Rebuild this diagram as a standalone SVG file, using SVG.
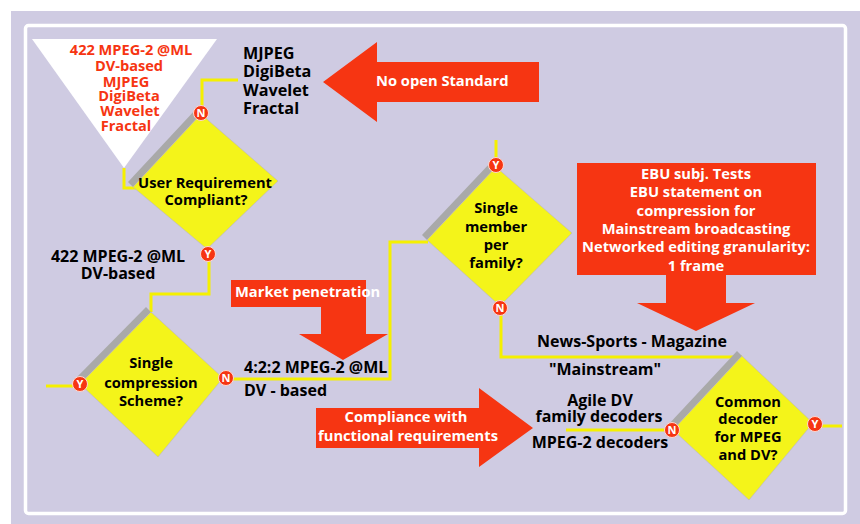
<svg xmlns="http://www.w3.org/2000/svg" width="860" height="524" viewBox="0 0 860 524">
<defs>
<style>
.bg{fill:#CFCBE2}
.frame{fill:#CFCBE2;stroke:#FFFFFF;stroke-width:3.5}
.dia{fill:#F4F41A;stroke:#B8B4C8;stroke-width:0.6}
.shadow{fill:#A9A9A9}
.line{fill:none;stroke:#F5F000;stroke-width:3}
.red{fill:#F63512}
.tri{fill:#FFFFFF}
.t{font-family:"Open Sans","Liberation Sans",sans-serif;font-weight:700;font-size:14.7px;fill:#000000;text-anchor:middle}
.tl{text-anchor:start}
.tr{fill:#F63512;font-size:14.6px}
.tw{fill:#FFFFFF}
.big{font-size:16.2px}
.lab{font-size:16px}
.circ{fill:#F63512;stroke:#FFD8D0;stroke-width:1}
.ct{font-family:"Open Sans","Liberation Sans",sans-serif;font-weight:700;font-size:11px;fill:#FFFFFF;text-anchor:middle}
</style>
</defs>
<rect x="0" y="0" width="860" height="524" fill="#FFFFFF"/>
<rect class="bg" x="11" y="11" width="849" height="513"/>
<rect class="frame" x="25.5" y="25.5" width="820" height="488" rx="3"/>

<g id="connectors">
<polyline class="line" points="238,80 202,80 202,107"/>
<polyline class="line" points="124,168 124,188 136,188"/>
<polyline class="line" points="209,261 209,294 151,294 151,312"/>
<polyline class="line" points="46,386 73,386"/>
<polyline class="line" points="233,379 390,379 390,242 428,242"/>
<polyline class="line" points="496,140 496,158"/>
<polyline class="line" points="501,315 501,357 742,357"/>
<polyline class="line" points="566,430 665,430"/>
<polyline class="line" points="822,426 842,426"/>
</g>

<g id="source-triangle">
<polygon class="tri" points="32,39 217,39 124,168"/>
<text class="t tr" x="131" y="55">422 MPEG-2 @ML</text>
<text class="t tr" x="129" y="71">DV-based</text>
<text class="t tr" x="126" y="87">MJPEG</text>
<text class="t tr" x="129" y="101">DigiBeta</text>
<text class="t tr" x="130" y="116">Wavelet</text>
<text class="t tr" x="126" y="131">Fractal</text>
</g>

<g id="rejected-list">
<text class="t tl big" x="243" y="59">MJPEG</text>
<text class="t tl big" x="243" y="77">DigiBeta</text>
<text class="t tl big" x="243" y="96">Wavelet</text>
<text class="t tl big" x="243" y="114">Fractal</text>
</g>

<g id="arrow-no-open-standard">
<polygon class="red" points="323,82 377,42 377,62 539,62 539,102 377,102 377,122"/>
<text class="t tw tl" x="376" y="86">No open Standard</text>
</g>

<g id="diamond-user-requirement">
<polygon class="shadow" points="201,114 133,187 128,182 196,109"/>
<polygon class="dia" points="201,114 278,181 207,249 133,187"/>
<text class="t" x="205" y="188">User Requirement</text>
<text class="t" x="206" y="205">Compliant?</text>
<circle class="circ" cx="201" cy="113" r="7.5"/>
<text class="ct" x="201" y="117">N</text>
<circle class="circ" cx="208" cy="254" r="7.5"/>
<text class="ct" x="208" y="258">Y</text>
</g>

<g id="label-422-dv">
<text class="t lab" x="118" y="262">422 MPEG-2 @ML</text>
<text class="t lab" x="118" y="279">DV-based</text>
</g>

<g id="diamond-single-compression">
<polygon class="shadow" points="151,312 80,384 75,379 146,307"/>
<polygon class="dia" points="151,312 223,378 158,457 80,384"/>
<text class="t" x="151" y="368">Single</text>
<text class="t" x="151" y="388">compression</text>
<text class="t" x="151" y="406">Scheme?</text>
<circle class="circ" cx="80" cy="384" r="7.5"/>
<text class="ct" x="80" y="388">Y</text>
<circle class="circ" cx="226" cy="378" r="7.5"/>
<text class="ct" x="226" y="382">N</text>
</g>

<g id="arrow-market-penetration">
<polygon class="red" points="231,280 366,280 366,334 388,334 343,360 299,334 321,334 321,307 231,307"/>
<text class="t tw tl" x="235" y="297">Market penetration</text>
</g>

<g id="label-422-dv-based">
<text class="t tl lab" x="244" y="373">4:2:2 MPEG-2 @ML</text>
<text class="t tl lab" x="244" y="396">DV - based</text>
</g>

<g id="arrow-compliance">
<polygon class="red" points="316,408 479,408 479,388 533,428 479,467 479,448 316,448"/>
<text class="t tw" x="406" y="422">Compliance with</text>
<text class="t tw" x="408" y="441">functional requirements</text>
</g>

<g id="diamond-single-member">
<polygon class="shadow" points="496,167 427,240 422,235 491,162"/>
<polygon class="dia" points="496,167 572,233 500,306 427,240"/>
<text class="t" x="496" y="213">Single</text>
<text class="t" x="496" y="232">member</text>
<text class="t" x="496" y="250">per</text>
<text class="t" x="496" y="268">family?</text>
<circle class="circ" cx="496" cy="165" r="7.5"/>
<text class="ct" x="496" y="169">Y</text>
<circle class="circ" cx="500" cy="308" r="7.5"/>
<text class="ct" x="500" y="312">N</text>
</g>

<g id="arrow-ebu">
<polygon class="red" points="577,163 816,163 816,275 726,275 726,303 755,303 696,331 637,303 666,303 666,275 577,275"/>
<text class="t tw" x="696" y="179">EBU subj. Tests</text>
<text class="t tw" x="696" y="197">EBU statement on</text>
<text class="t tw" x="696" y="216">compression for</text>
<text class="t tw" x="696" y="234">Mainstream broadcasting</text>
<text class="t tw" x="696" y="252">Networked editing granularity:</text>
<text class="t tw" x="696" y="271">1 frame</text>
</g>

<g id="labels-mainstream">
<text class="t lab" x="632" y="347">News-Sports - Magazine</text>
<text class="t lab" x="605" y="375">"Mainstream"</text>
<text class="t lab" x="600" y="406">Agile DV</text>
<text class="t lab" x="599" y="422">family decoders</text>
<text class="t lab" x="600" y="448">MPEG-2 decoders</text>
</g>

<g id="diamond-common-decoder">
<polygon class="shadow" points="742,356 673,430 668,425 737,351"/>
<polygon class="dia" points="742,356 813,423 749,500 673,430"/>
<text class="t" x="748" y="407">Common</text>
<text class="t" x="748" y="424">decoder</text>
<text class="t" x="748" y="442">for MPEG</text>
<text class="t" x="748" y="460">and DV?</text>
<circle class="circ" cx="672" cy="430" r="7.5"/>
<text class="ct" x="672" y="434">N</text>
<circle class="circ" cx="815" cy="424" r="7.5"/>
<text class="ct" x="815" y="428">Y</text>
</g>
</svg>
